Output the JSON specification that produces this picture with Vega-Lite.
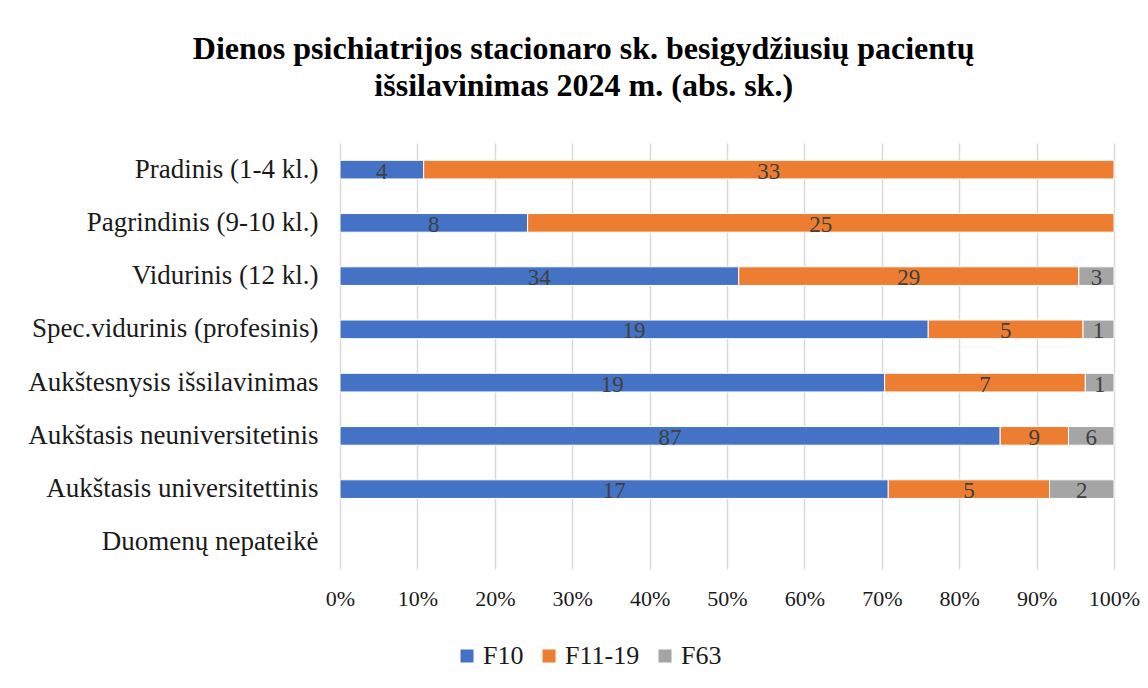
{
  "$schema": "https://vega.github.io/schema/vega-lite/v6.json",
  "width": 774,
  "height": 426,
  "autosize": "none",
  "padding": {"left": 340, "top": 143, "right": 34, "bottom": 119},
  "background": "white",
  "title": {
    "text": ["Dienos psichiatrijos stacionaro sk. besigydžiusių pacientų", "išsilavinimas 2024 m. (abs. sk.)"],
    "font": "Liberation Serif",
    "fontSize": 32,
    "fontWeight": "bold",
    "color": "#000000",
    "lineHeight": 37,
    "frame": "bounds",
    "anchor": "middle",
    "offset": 40
  },
  "data": {
    "values": [
      {"cat": "Pradinis (1-4 kl.)", "series": "F10", "ord": 1, "value": 4},
      {"cat": "Pradinis (1-4 kl.)", "series": "F11-19", "ord": 2, "value": 33},
      {"cat": "Pagrindinis (9-10 kl.)", "series": "F10", "ord": 1, "value": 8},
      {"cat": "Pagrindinis (9-10 kl.)", "series": "F11-19", "ord": 2, "value": 25},
      {"cat": "Vidurinis (12 kl.)", "series": "F10", "ord": 1, "value": 34},
      {"cat": "Vidurinis (12 kl.)", "series": "F11-19", "ord": 2, "value": 29},
      {"cat": "Vidurinis (12 kl.)", "series": "F63", "ord": 3, "value": 3},
      {"cat": "Spec.vidurinis (profesinis)", "series": "F10", "ord": 1, "value": 19},
      {"cat": "Spec.vidurinis (profesinis)", "series": "F11-19", "ord": 2, "value": 5},
      {"cat": "Spec.vidurinis (profesinis)", "series": "F63", "ord": 3, "value": 1},
      {"cat": "Aukštesnysis išsilavinimas", "series": "F10", "ord": 1, "value": 19},
      {"cat": "Aukštesnysis išsilavinimas", "series": "F11-19", "ord": 2, "value": 7},
      {"cat": "Aukštesnysis išsilavinimas", "series": "F63", "ord": 3, "value": 1},
      {"cat": "Aukštasis neuniversitetinis", "series": "F10", "ord": 1, "value": 87},
      {"cat": "Aukštasis neuniversitetinis", "series": "F11-19", "ord": 2, "value": 9},
      {"cat": "Aukštasis neuniversitetinis", "series": "F63", "ord": 3, "value": 6},
      {"cat": "Aukštasis universitettinis", "series": "F10", "ord": 1, "value": 17},
      {"cat": "Aukštasis universitettinis", "series": "F11-19", "ord": 2, "value": 5},
      {"cat": "Aukštasis universitettinis", "series": "F63", "ord": 3, "value": 2}
    ]
  },
  "transform": [
    {"stack": "value", "groupby": ["cat"], "sort": [{"field": "ord", "order": "ascending"}], "offset": "normalize", "as": ["x0", "x1"]},
    {"calculate": "(datum.x0 + datum.x1) / 2", "as": "xm"}
  ],
  "encoding": {
    "y": {
      "field": "cat",
      "type": "nominal",
      "title": null,
      "scale": {
        "domain": ["Pradinis (1-4 kl.)", "Pagrindinis (9-10 kl.)", "Vidurinis (12 kl.)", "Spec.vidurinis (profesinis)", "Aukštesnysis išsilavinimas", "Aukštasis neuniversitetinis", "Aukštasis universitettinis", "Duomenų nepateikė"],
        "paddingInner": 0.65,
        "paddingOuter": 0.325
      },
      "axis": {
        "domain": false,
        "ticks": false,
        "grid": false,
        "labelFont": "Liberation Serif",
        "labelFontSize": 27,
        "labelColor": "#1a1a1a",
        "labelPadding": 22,
        "labelLimit": 400
      }
    }
  },
  "layer": [
    {
      "mark": {"type": "bar", "stroke": "white", "strokeWidth": 1},
      "encoding": {
        "x": {
          "field": "x0",
          "type": "quantitative",
          "title": null,
          "scale": {"domain": [0, 1], "nice": false},
          "axis": {
            "format": ".0%",
            "values": [0, 0.1, 0.2, 0.3, 0.4, 0.5, 0.6, 0.7, 0.8, 0.9, 1],
            "domain": false,
            "ticks": false,
            "grid": true,
            "gridColor": "#d9d9d9",
            "gridWidth": 1.5,
            "labelFont": "Liberation Serif",
            "labelFontSize": 22,
            "labelColor": "#1a1a1a",
            "labelPadding": 19,
            "labelFlush": false
          }
        },
        "x2": {"field": "x1"},
        "color": {
          "field": "series",
          "type": "nominal",
          "scale": {"domain": ["F10", "F11-19", "F63"], "range": ["#4472C4", "#ED7D31", "#A5A5A5"]},
          "legend": {
            "title": null,
            "orient": "none",
            "direction": "horizontal",
            "legendX": 114,
            "legendY": 500,
            "symbolType": "square",
            "symbolSize": 170,
            "symbolStrokeWidth": 0,
            "labelFont": "Liberation Serif",
            "labelFontSize": 26,
            "labelColor": "#1a1a1a",
            "labelOffset": 3,
            "columnPadding": 12
          }
        }
      }
    },
    {
      "mark": {"type": "text", "font": "Liberation Serif", "fontSize": 23, "color": "#404040", "baseline": "middle", "dy": 2},
      "encoding": {
        "x": {"field": "xm", "type": "quantitative"},
        "text": {"field": "value", "type": "quantitative"}
      }
    }
  ],
  "config": {
    "view": {"stroke": null},
    "legend": {"labelFont": "Liberation Serif"},
    "text": {"font": "Liberation Serif"}
  }
}
